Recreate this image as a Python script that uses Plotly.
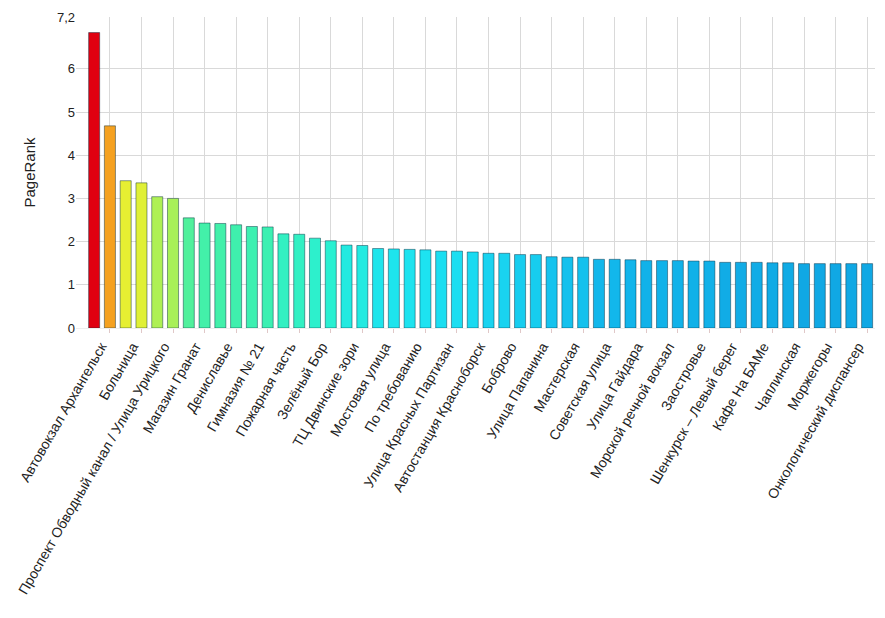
import plotly.graph_objs as go

# PageRank of bus stops, sorted descending (50 stops)
pagerank = [6.84, 4.68, 3.41, 3.36, 3.04, 3.00, 2.55, 2.43, 2.42, 2.39,
            2.35, 2.34, 2.18, 2.17, 2.08, 2.02, 1.92, 1.91, 1.84, 1.83,
            1.82, 1.81, 1.78, 1.78, 1.76, 1.73, 1.73, 1.70, 1.70, 1.65,
            1.64, 1.64, 1.59, 1.59, 1.58, 1.56, 1.56, 1.56, 1.55, 1.55,
            1.52, 1.52, 1.52, 1.51, 1.51, 1.49, 1.49, 1.49, 1.49, 1.49]

# labels shown under every second bar
stop_labels = ['Автовокзал Архангельск', 'Больница',
               'Проспект Обводный канал / Улица Урицкого', 'Магазин Гранат',
               'Дениславье', 'Гимназия № 21', 'Пожарная часть', 'Зелёный Бор',
               'ТЦ Двинские зори', 'Мостовая улица', 'По требованию',
               'Улица Красных Партизан', 'Автостанция Красноборск', 'Боброво',
               'Улица Папанина', 'Мастерская', 'Советская улица', 'Улица Гайдара',
               'Морской речной вокзал', 'Заостровье', 'Шенкурск – Левый берег',
               'Кафе На БАМе', 'Чаплинская', 'Моржегоры',
               'Онкологический диспансер']

y_ticks = [0, 1, 2, 3, 4, 5, 6, 7.2]
y_tick_text = ['0', '1', '2', '3', '4', '5', '6', '7,2']

positions = list(range(len(pagerank)))
label_positions = positions[1::2]

jet = [[0.0, '#10a8e4'], [0.02, '#12b8ec'], [0.058, '#1ce2f2'],
       [0.095, '#28f0d4'], [0.17, '#40f0ac'], [0.198, '#50f09c'],
       [0.282, '#a8f058'], [0.357, '#e6f032'], [0.6, '#f5a020'],
       [1.0, '#e00010']]

data = [go.Bar(x=positions, y=pagerank, width=0.7,
               marker=dict(color=pagerank, colorscale=jet,
                           cmin=min(pagerank), cmax=max(pagerank),
                           line=dict(color='rgba(0,40,60,0.45)', width=1)))]

# page body has an 8px margin, so the plot margins are reduced by it
layout = go.Layout(
    width=885, height=618,
    margin=dict(l=68, r=18, t=9, b=298),
    paper_bgcolor='white', plot_bgcolor='white',
    font=dict(family='Liberation Sans, Arial, sans-serif', size=13, color='#222'),
    showlegend=False,
    xaxis=dict(range=[-1.15, 49.5], tickvals=label_positions, ticktext=stop_labels,
               tickangle=-60, automargin=False, tickfont=dict(size=14),
               ticklabelshift=-9,
               showgrid=True, gridcolor='#d9d9d9', gridwidth=1,
               zeroline=False, ticks='outside', ticklen=4, tickcolor='#e0c8c8',
               showline=True, linecolor='#eeeeee'),
    yaxis=dict(range=[0, 7.2], tickvals=y_ticks, ticktext=y_tick_text,
               automargin=False, tickfont=dict(size=13), ticklabeloverflow='allow',
               showgrid=True, gridcolor='#d9d9d9', gridwidth=1, zeroline=False,
               title=dict(text='PageRank', font=dict(size=15), standoff=17),
               ticks='', ticklen=0),
)

fig = go.Figure(data=data, layout=layout)
fig.write_html('out.html')
